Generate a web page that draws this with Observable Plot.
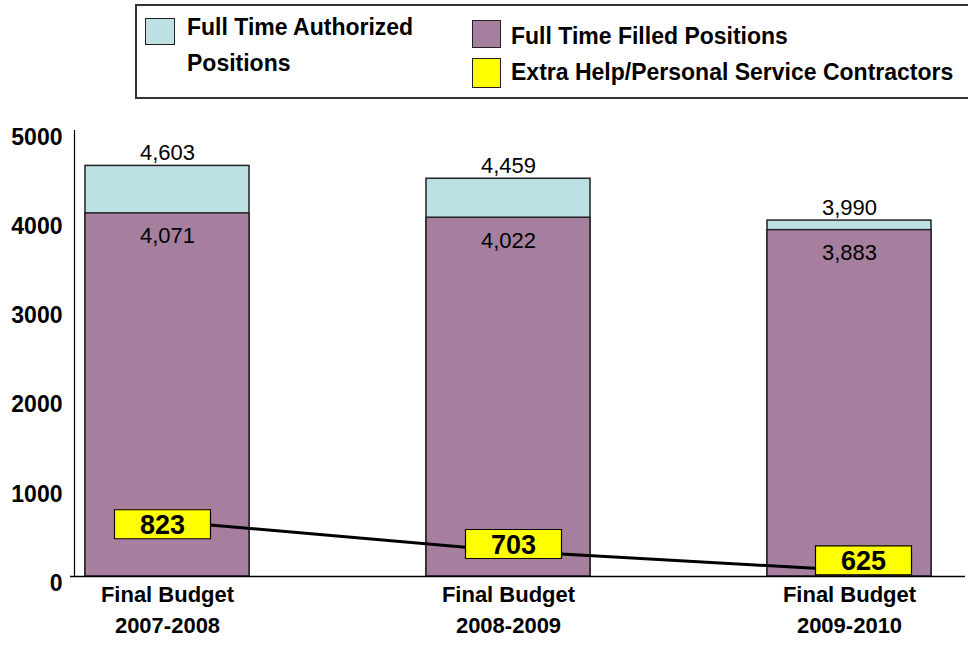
<!DOCTYPE html>
<html>
<head>
<meta charset="utf-8">
<script src="https://cdn.jsdelivr.net/npm/d3@7"></script>
<script src="https://cdn.jsdelivr.net/npm/@observablehq/plot@0.6"></script>
<style>
  html, body { margin: 0; padding: 0; background: #fff; width: 968px; height: 646px; overflow: hidden; }
  body { font-family: "Liberation Sans", Arial, sans-serif; }
  #legend { position: relative; width: 968px; height: 100px; }
  #legend .frame { position: absolute; left: 135px; top: 4px; width: 900px; height: 91px; border: 2px solid #333; box-sizing: content-box; }
  #legend .sw { position: absolute; border: 1px solid #222; box-sizing: border-box; }
  #legend .tx { position: absolute; font-weight: bold; font-size: 23px; line-height: 36px; color: #000; white-space: nowrap; }
  #chart svg { display: block; }
</style>
</head>
<body>
<div id="legend"></div>
<div id="chart"></div>
<script>
// ---- data ----
const categories = ["Final Budget\n2007-2008", "Final Budget\n2008-2009", "Final Budget\n2009-2010"];
const authorized = [4603, 4459, 3990];
const filled = [4071, 4022, 3883];
const extraHelp = [823, 703, 625];
const yTicks = [0, 1000, 2000, 3000, 4000, 5000];
const seriesNames = ["Full Time Authorized\nPositions", "Full Time Filled Positions", "Extra Help/Personal Service Contractors"];
const seriesColors = ["#bce0e3", "#a67f9f", "#ffff00"];

const data = categories.map((c, i) => ({cat: c, authorized: authorized[i], filled: filled[i], extra: extraHelp[i]}));

// secondary (hidden) axis for the extra-help line, mapped onto the primary scale
const secondary = d3.scaleLinear().domain([600, 2400]).range([0, 5000]);

// ---- legend ----
const legend = document.getElementById("legend");
legend.innerHTML = `
  <div class="frame"></div>
  <div class="sw" style="left:145px;top:18px;width:30px;height:27px;background:${seriesColors[0]}"></div>
  <div class="tx" style="left:187px;top:9px">${seriesNames[0].replace("\n", "<br>")}</div>
  <div class="sw" style="left:472px;top:20px;width:29px;height:28px;background:${seriesColors[1]}"></div>
  <div class="tx" style="left:511px;top:18px">${seriesNames[1]}</div>
  <div class="sw" style="left:472px;top:58px;width:29px;height:30px;background:${seriesColors[2]}"></div>
  <div class="tx" style="left:511px;top:54px">${seriesNames[2]}</div>
`;

// ---- chart ----
const boxSymbol = { draw(ctx) { ctx.rect(-48, -14.5, 96, 29); } };
const boxOffsets = [[-5, 3], [5, -7], [14, -10]];
const fmt = d3.format(",");

const boxMarks = boxOffsets.flatMap(([dx, dy], k) => [
  Plot.dot(data, {filter: (d, i) => i === k, x: "cat", y: d => secondary(d.extra), symbol: boxSymbol, r: 4,
    fill: seriesColors[2], stroke: "#000", strokeWidth: 1.2, dx, dy}),
  Plot.text(data, {filter: (d, i) => i === k, x: "cat", y: d => secondary(d.extra), text: d => String(d.extra),
    fontSize: 27, fontWeight: "bold", fill: "#000", dx, dy: dy + 1})
]);

const chart = Plot.plot({
  width: 968,
  height: 546,
  marginLeft: 74,
  marginRight: 3,
  marginTop: 30,
  marginBottom: 70,
  style: {fontFamily: "'Liberation Sans', Arial, sans-serif", background: "#fff", color: "#000"},
  x: {domain: categories, paddingInner: 0.52, paddingOuter: 0.03, insetRight: 24},
  y: {domain: [0, 5000]},
  marks: [
    Plot.barY(data, {x: "cat", y1: 0, y2: "authorized", fill: seriesColors[0], stroke: "#222", strokeWidth: 1.5}),
    Plot.barY(data, {x: "cat", y1: 0, y2: "filled", fill: seriesColors[1], stroke: "#222", strokeWidth: 1.5}),
    Plot.frame({anchor: "left", stroke: "#000", strokeWidth: 1.2}),
    Plot.ruleY([0], {stroke: "#000", strokeWidth: 1.5, insetLeft: -4}),
    Plot.axisY({ticks: yTicks, tickSize: 0, tickPadding: 12, tickFormat: d3.format("d"),
      fontSize: 23, fontWeight: "bold", dy: 7, label: null}),
    Plot.axisX({tickSize: 0, tickPadding: 4, fontSize: 22, fontWeight: "bold", lineHeight: 1.4, label: null}),
    Plot.text(data, {x: "cat", y: "authorized", text: d => fmt(d.authorized), dy: -13, fontSize: 22, fill: "#000"}),
    Plot.text(data, {x: "cat", y: "filled", text: d => fmt(d.filled), dy: 23, fontSize: 22, fill: "#000"}),
    Plot.line(data, {x: "cat", y: d => secondary(d.extra), stroke: "#000", strokeWidth: 3}),
    ...boxMarks
  ]
});
document.getElementById("chart").appendChild(chart);
</script>
</body>
</html>
